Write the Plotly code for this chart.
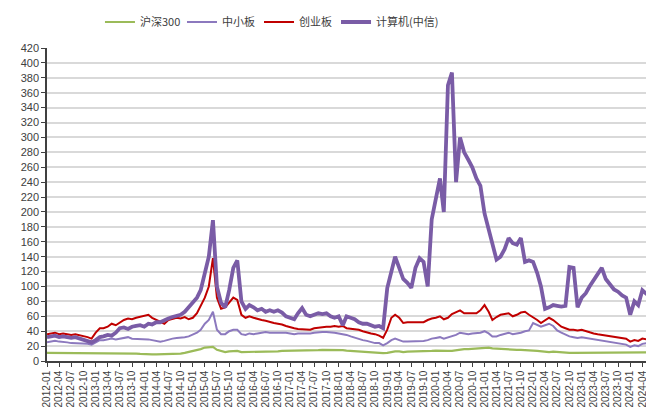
import plotly.graph_objects as go
import pandas as pd

# monthly observation dates 2012-01 .. 2024-06
dates = pd.date_range("2012-01-01", "2024-06-01", freq="MS")

hs300 = [
    11, 11, 11, 11, 11, 10.5, 10, 10, 10, 10, 10, 10,
    11, 11, 10.5, 10.5, 10.5, 10, 10, 10, 10, 10, 10, 9.5,
    9, 9, 9, 9, 9, 9, 9.5, 9.5, 9.5, 10, 11, 12,
    14, 14.5, 16, 18, 18, 19, 15, 13, 12, 13, 13.5, 13.5,
    12, 12, 12.5, 12.5, 12.5, 12.5, 13, 13, 13, 13, 13.5, 13.5,
    13.5, 13.5, 14, 14, 14, 14, 14.5, 14.5, 15, 15, 15, 15,
    15.5, 14.5, 14, 13.5, 13, 12.5, 12.5, 12, 12, 11.5, 11, 10.5,
    11, 12.5, 13, 13, 12, 12.5, 12.5, 12.5, 13, 13, 13, 13.5,
    14, 13.5, 13, 13.5, 13.5, 14.5, 16, 16, 16, 16.5, 17, 17.5,
    18, 18, 17, 16.5, 16.5, 16, 15.5, 15, 15, 15, 15, 15,
    14, 13.5, 13, 12, 12, 12.5, 12, 11.5, 11, 11, 11, 11,
    11.5, 11.5, 11.5, 11.5, 11.5, 11, 11, 11, 11, 11, 11, 10.5,
    10.5, 11, 11, 11.5, 11.5, 11.5,
]

zxb = [
    25, 26, 27, 26, 26, 25, 24, 24, 24, 23, 23, 22,
    25, 28, 28, 29, 30, 29, 30, 31, 32, 30, 30, 30,
    29, 29, 28, 27, 26, 27, 29, 30, 31, 31, 32, 33,
    35, 38, 42, 50, 55, 66, 42, 36, 36, 40, 42, 42,
    36, 35, 37, 36, 37, 38, 39, 38, 38, 39, 39, 38,
    37, 36, 37, 37, 36, 37, 38, 39, 39, 39, 39, 38,
    37, 36, 35, 33, 31, 29, 28, 27, 25, 24, 24, 21,
    24, 28, 30, 28, 26, 26, 26, 27, 27, 27, 28, 30,
    31, 32, 30, 32, 33, 35, 38, 37, 36, 37, 37, 38,
    40, 37, 33, 33, 35, 36, 38, 36, 37, 38, 40, 41,
    51, 48, 46, 48, 50, 47, 41, 38, 35, 33, 32, 31,
    32, 31, 30, 29, 28, 27, 26, 26, 25, 24, 23, 22,
    19, 21, 20, 23, 24, 24,
]

cyb = [
    36, 37, 38, 36, 37, 36, 35, 36, 35, 34, 32, 30,
    38, 44, 44, 46, 50, 48, 52, 55, 57, 56, 58, 59,
    60, 62, 58, 55, 52, 50, 55, 56, 58, 57, 59, 56,
    58, 64, 75, 85, 100, 138, 85, 70, 72, 78, 85, 82,
    62, 58, 60, 58, 56, 55, 54, 52, 51, 50, 49, 47,
    46, 44, 43, 43, 42, 42, 44, 45, 46, 46, 46, 47,
    46, 47, 44, 43, 43, 42, 40, 38, 37, 36, 34, 31,
    42, 58, 62, 58, 51, 52, 52, 52, 53, 52, 55, 57,
    58, 60, 56, 58, 63, 66, 68, 64, 64, 65, 64, 68,
    75, 66, 55, 59, 62, 63, 64, 60, 62, 65, 66, 62,
    59, 55, 51, 55, 58, 55, 50, 46, 44, 42, 42, 41,
    42, 40, 39, 37, 36, 35, 34, 33, 32, 31, 31, 30,
    26, 28, 27, 30, 29, 27,
]

jsj = [
    32, 33, 34, 32, 33, 32, 31, 32, 30, 29, 27, 25,
    28, 32, 33, 35, 34, 38, 44, 45, 43, 46, 47, 48,
    46, 50, 49, 52, 52, 55, 57, 59, 60, 62, 66, 72,
    80, 85, 95, 120, 140, 189, 100, 78, 72, 95, 125, 135,
    80, 70, 75, 72, 68, 70, 66, 68, 66, 68, 65, 60,
    58, 56, 64, 71, 62, 60, 62, 64, 63, 64, 60, 58,
    60, 48, 60, 58, 56, 52, 50, 50, 48, 46, 47, 44,
    98, 120, 140, 125, 110, 105, 98, 125, 138, 133, 100, 190,
    215, 245, 200, 370, 387, 240, 300, 280, 270, 260, 245, 235,
    198, 178, 160, 136, 140, 150, 165, 158, 156, 165, 133, 135,
    133, 118, 100, 70, 72, 75, 74, 73, 74, 126, 125, 72,
    85, 91, 100, 109, 118, 125, 110, 102, 96, 93, 88, 85,
    62, 80, 75, 95, 90, 88,
]

tick_dates = pd.date_range("2012-01-01", "2024-04-01", freq="QS")
tick_text = [d.strftime("%Y-%m") for d in tick_dates]
y_ticks = list(range(0, 421, 20))

series = [
    ("沪深300", hs300, "#9BBB59", 2.2, "legend", 0.0877),
    ("中小板", zxb, "#8C79BE", 2.0, "legend2", 0.2235),
    ("创业板", cyb, "#C00000", 2.0, "legend3", 0.3510),
    ("计算机(中信)", jsj, "#7A5CA6", 3.8, "legend4", 0.4785),
]

fig = go.Figure()
for name, vals, color, w, lg, _ in series:
    fig.add_trace(go.Scatter(x=dates, y=vals, name=name, mode="lines",
                             line=dict(color=color, width=w), legend=lg))

legend_font = dict(family="Noto Sans CJK SC", size=11, color="#404040")
legends = {}
for _, _, _, _, lg, lx in series:
    legends[lg] = dict(orientation="h", x=lx, xanchor="left", y=1.083, yanchor="middle",
                       font=legend_font, bgcolor="rgba(0,0,0,0)", itemwidth=30)

# page body adds an 8px margin, so the figure is sized/placed to compensate
fig.update_layout(
    width=646, height=406,
    margin=dict(l=39, r=3, t=40, b=53, autoexpand=False),
    paper_bgcolor="white", plot_bgcolor="white",
    font=dict(family="Liberation Sans, Arial, Noto Sans CJK SC", size=11, color="#404040"),
    showlegend=True,
    shapes=[dict(type="rect", xref="paper", yref="paper", x0=-0.1, x1=1.1,
                 y0=1.1438, y1=1.2, fillcolor="#4D4D4D", line=dict(width=0), layer="above")],
    **legends,
)
fig.update_xaxes(
    range=[pd.Timestamp("2012-01-01"), pd.Timestamp("2024-06-05")],
    tickmode="array", tickvals=tick_dates, ticktext=tick_text, tickangle=-90,
    ticks="outside", ticklen=4, tickcolor="#404040", showline=True, linecolor="#404040",
    linewidth=1.5, showgrid=False, tickfont=dict(size=10, color="#404040"), zeroline=False,
    automargin=False,
)
fig.update_yaxes(
    range=[0, 420], tickmode="array", tickvals=y_ticks,
    ticks="outside", ticklen=4, tickcolor="#404040", showline=True, linecolor="#404040",
    linewidth=1.5, showgrid=True, gridcolor="#D9D9D9", gridwidth=1.5,
    tickfont=dict(size=11, color="#404040"), zeroline=False, automargin=False,
)

fig.write_html("out.html")
